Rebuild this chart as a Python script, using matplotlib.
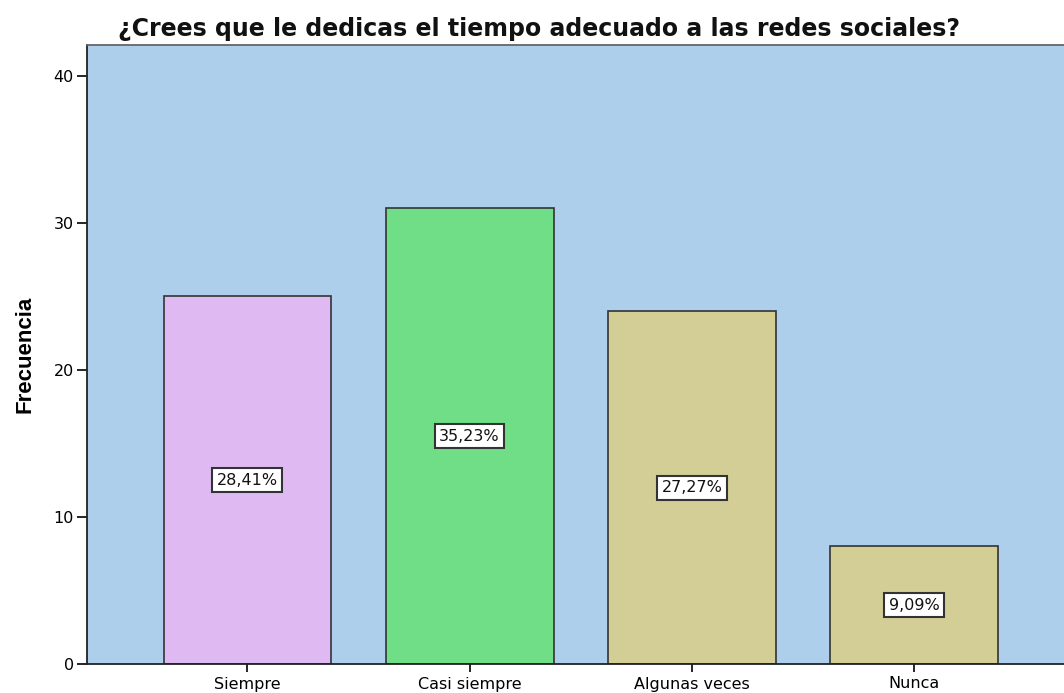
import matplotlib
matplotlib.use("Agg")
import matplotlib.pyplot as plt

categories = ["Siempre", "Casi siempre", "Algunas veces", "Nunca"]
counts = [25, 31, 24, 8]
pct_labels = ["28,41%", "35,23%", "27,27%", "9,09%"]
bar_colors = ["#DFBAF2", "#70DE86", "#D3CD96", "#D3CD96"]
yticks = [0, 10, 20, 30, 40]

plt.rcParams['font.family'] = ['DejaVu Sans']

fig = plt.figure(figsize=(10.64, 6.93), dpi=100)
ax = fig.add_axes([87/1064, 1-664/693, 1-87/1064, (664-45)/693])
ax.set_facecolor("#AECFEC")

x = list(range(len(categories)))
ax.bar(x, counts, width=0.755, color=bar_colors, edgecolor="#333333", linewidth=1.2, zorder=2)
for xi, c, lab in zip(x, counts, pct_labels):
    ax.text(xi, c/2, lab, ha="center", va="center", fontsize=11.5, color="#111111", zorder=3,
            bbox=dict(boxstyle="square,pad=0.28", facecolor="white", edgecolor="#333333", linewidth=1.5))

ax.set_xlim(-0.722, 3.675)
ax.set_ylim(0, 42.1)
ax.set_yticks(yticks)
ax.set_xticks(x)
ax.set_xticklabels(categories, fontsize=11.5)
ax.tick_params(axis="y", labelsize=11.5, length=7, width=1.2, direction="out", pad=2.5)
ax.tick_params(axis="x", length=6, width=1.2, direction="out", pad=3)
ax.spines["right"].set_visible(False)
for s in ["left", "bottom", "top"]:
    ax.spines[s].set_linewidth(1.3)
    ax.spines[s].set_color("#222222")
ax.spines["top"].set_color("#666666")

ax.set_ylabel("Frecuencia", fontsize=16, fontweight="bold", labelpad=13, family=['Liberation Sans', 'DejaVu Sans'])
fig.text(539/1064, 1-29/693, "¿Crees que le dedicas el tiempo adecuado a las redes sociales?",
         ha="center", va="center", fontsize=17, fontweight="bold", color="#111111")

fig.savefig("out.png", dpi=100)
